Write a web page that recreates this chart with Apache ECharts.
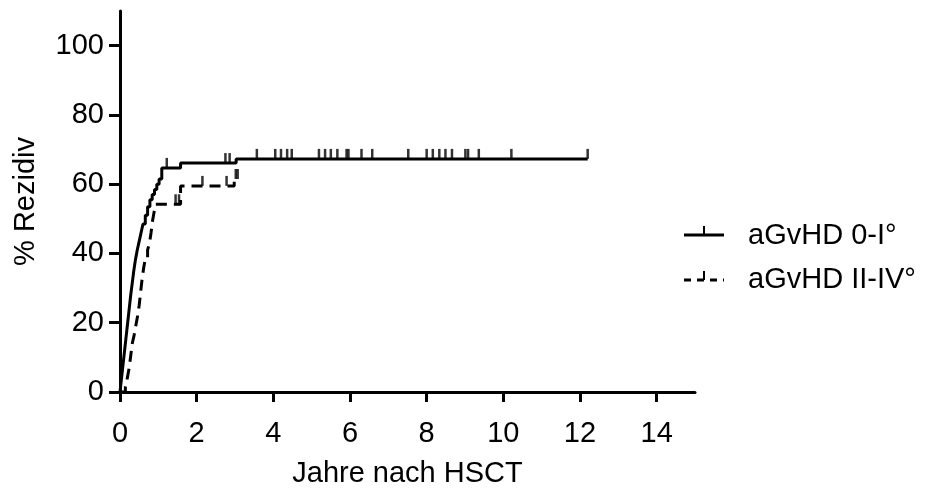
<!DOCTYPE html>
<html>
<head>
<meta charset="utf-8">
<script src="https://cdn.jsdelivr.net/npm/echarts@6/dist/echarts.min.js"></script>
<style>
  html, body { margin: 0; padding: 0; background: #fff; }
  #chart { width: 928px; height: 493px; }
</style>
</head>
<body>
<div id="chart"></div>
<script>
// aGvHD 0-I°: Ereigniszeitpunkte (Jahre) und kumulativer Anteil Rezidiv (%)
const lowTimes = [0, 0.04, 0.08, 0.12, 0.16, 0.2, 0.24, 0.28, 0.32, 0.36, 0.40, 0.45, 0.50, 0.55, 0.60, 0.66, 0.72, 0.78, 0.84, 0.90, 0.96, 1.02, 1.09, 1.58, 3.03];
const lowValues = [0, 4, 8, 12, 16, 20, 24, 28, 31.5, 35, 38, 41, 43.5, 46, 48.5, 51, 53.5, 55.5, 57, 58.5, 60, 61.5, 64.7, 66.1, 67.3];
const lowEnd = 12.2;
// zensierte Patienten (Jahre)
const lowCensored = [1.22, 2.75, 2.86, 3.57, 4.05, 4.2, 4.36, 4.48, 5.19, 5.35, 5.5, 5.67, 5.91, 5.96, 6.3, 6.58, 7.52, 8.0, 8.16, 8.33, 8.49, 8.66, 9.01, 9.08, 9.36, 10.21, 12.2];

// aGvHD II-IV°
const highTimes = [0, 0.14, 0.19, 0.24, 0.28, 0.32, 0.37, 0.41, 0.46, 0.50, 0.54, 0.58, 0.62, 0.66, 0.72, 0.77, 0.81, 0.85, 0.89, 0.93, 1.58, 2.98];
const highValues = [0, 1.5, 4, 7, 10.5, 14, 16.5, 19, 22, 25, 29, 33, 36, 38.5, 41, 43, 46, 49.5, 52, 54.2, 59.5, 61.5];
const highEnd = 3.07;
const highCensored = [1.45, 1.54, 2.15, 2.78, 3.02, 3.07];

const xTicks = [0, 2, 4, 6, 8, 10, 12, 14];
const yTicks = [0, 20, 40, 60, 80, 100];

const seriesNames = ['aGvHD 0-I°', 'aGvHD II-IV°'];

const FONT = 'Liberation Sans, Arial, sans-serif';

function stepData(times, values, end) {
  const d = times.map((t, i) => [t, values[i]]);
  d.push([end, values[values.length - 1]]);
  return d;
}
// Wert der Treppenfunktion zum Zeitpunkt t
function valueAt(times, values, t) {
  let v = values[0];
  for (let i = 0; i < times.length; i++) {
    if (times[i] <= t) v = values[i];
  }
  return v;
}
function censorData(censored, times, values) {
  return censored.map(t => [t, valueAt(times, values, t)]);
}

const chart = echarts.init(document.getElementById('chart'));

const axisCommon = {
  type: 'value',
  axisLine: { show: true, lineStyle: { color: '#000', width: 3 } },
  splitLine: { show: false },
  nameLocation: 'middle',
  nameTextStyle: { fontSize: 29, color: '#000', fontFamily: FONT }
};

const option = {
  animation: false,
  grid: { left: 120, right: 233, top: 11, bottom: 98.5, containLabel: false },
  xAxis: Object.assign({}, axisCommon, {
    min: 0,
    max: 15,
    name: 'Jahre nach HSCT',
    nameGap: 67,
    axisTick: { show: true, length: 10, lineStyle: { color: '#000', width: 3 }, customValues: xTicks },
    axisLabel: { customValues: xTicks, fontSize: 29, color: '#000', margin: 27, fontFamily: FONT }
  }),
  yAxis: Object.assign({}, axisCommon, {
    min: 0,
    max: 110,
    name: '% Rezidiv',
    nameGap: 80,
    axisTick: { show: true, length: 11, lineStyle: { color: '#000', width: 3 }, customValues: yTicks },
    axisLabel: { customValues: yTicks, fontSize: 29, color: '#000', margin: 16, fontFamily: FONT }
  }),
  series: [
    {
      name: seriesNames[0],
      type: 'line',
      step: 'end',
      showSymbol: false,
      data: stepData(lowTimes, lowValues, lowEnd),
      lineStyle: { color: '#000', width: 3 },
      z: 3
    },
    {
      name: seriesNames[1],
      type: 'line',
      step: 'end',
      showSymbol: false,
      data: stepData(highTimes, highValues, highEnd),
      lineStyle: { color: '#000', width: 3, type: [11, 7] },
      z: 2
    },
    {
      type: 'scatter',
      symbol: 'rect',
      symbolSize: [2.5, 10],
      symbolOffset: [0, -5],
      itemStyle: { color: '#000' },
      data: censorData(lowCensored, lowTimes, lowValues),
      z: 4
    },
    {
      type: 'scatter',
      symbol: 'rect',
      symbolSize: [2.5, 10],
      symbolOffset: [0, -5],
      itemStyle: { color: '#000' },
      data: censorData(highCensored, highTimes, highValues),
      z: 4
    }
  ],
  graphic: [
    { type: 'line', shape: { x1: 684, y1: 235, x2: 724, y2: 235 }, style: { stroke: '#000', lineWidth: 3 } },
    { type: 'line', shape: { x1: 704, y1: 226, x2: 704, y2: 235 }, style: { stroke: '#000', lineWidth: 2 } },
    { type: 'text', x: 748, y: 236, style: { text: seriesNames[0], fontSize: 29, fontFamily: FONT, fill: '#000', verticalAlign: 'middle' } },
    { type: 'line', shape: { x1: 684, y1: 280, x2: 724, y2: 280 }, style: { stroke: '#000', lineWidth: 3, lineDash: [7, 6] } },
    { type: 'line', shape: { x1: 704, y1: 271, x2: 704, y2: 280 }, style: { stroke: '#000', lineWidth: 2 } },
    { type: 'text', x: 748, y: 280, style: { text: seriesNames[1], fontSize: 29, fontFamily: FONT, fill: '#000', verticalAlign: 'middle' } }
  ]
};

chart.setOption(option);
</script>
</body>
</html>
